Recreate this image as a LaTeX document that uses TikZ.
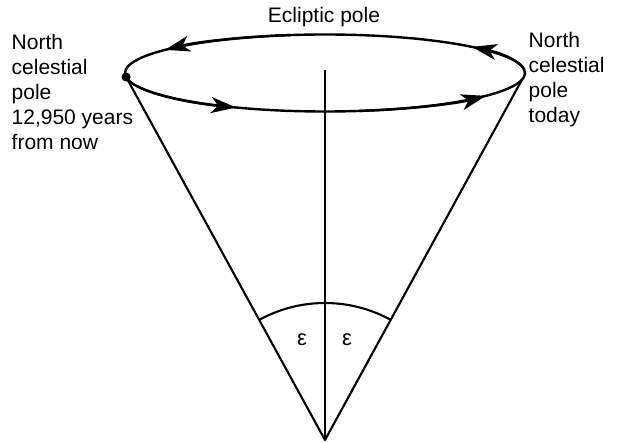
\documentclass[tikz,border=0pt]{standalone}
\usepackage{fontspec}
\setmainfont{Liberation Sans}
\usetikzlibrary{arrows.meta,calc}
\begin{document}
\begin{tikzpicture}[x=1pt,y=1pt,
  line/.style={line width=2.1pt,line join=round},
  orbit/.style={line width=2.4pt},
  orbitarr/.style={orbit,-{Stealth[length=25pt,width=16pt,inset=7pt]}},
  lbl/.style={font=\fontsize{21}{25}\selectfont,inner sep=0pt,align=left},
  eps/.style={font=\fontsize{22}{26}\selectfont,inner sep=0pt}]
\useasboundingbox (0,0) rectangle (617,442);
\coordinate (ec) at (325,369);
\coordinate (apex) at (325,2);
\coordinate (axtop) at (325,372);
\coordinate (lp) at ($(ec)+(186:200 and 38.5)$);
\coordinate (rp) at ($(ec)+(350:200 and 38.5)$);
% orbit
\draw[orbit] (ec) ellipse [x radius=200,y radius=38.5];
% arrowheads along the orbit
\draw[orbitarr] ($(ec)+(200:200 and 38.5)$) arc[start angle=200,end angle=243.6,x radius=200,y radius=38.5];
\draw[orbitarr] ($(ec)+(280:200 and 38.5)$) arc[start angle=280,end angle=323.6,x radius=200,y radius=38.5];
\draw[orbitarr] ($(ec)+(365:200 and 38.5)$) arc[start angle=365,end angle=402.7,x radius=200,y radius=38.5];
\draw[orbitarr] ($(ec)+(460:200 and 38.5)$) arc[start angle=460,end angle=503.1,x radius=200,y radius=38.5];
% cone
\draw[line] (lp) -- (apex) -- (rp);
\draw[line] (axtop) -- (apex);
\fill (lp) circle (4.5);
% angle arcs
\draw[line] (apex) ++(118.6:137) arc[start angle=118.6,end angle=90,radius=137];
\draw[line] (apex) ++(61.4:137) arc[start angle=61.4,end angle=90,radius=137];
\node[eps] (e1) at (302,102) {ε};
\node[eps] (e2) at (347,102) {ε};
% labels
\node[lbl,anchor=base] (ecl) at (324,419.3) {Ecliptic pole};
\node[lbl,anchor=north west] (left) at (11.5,407.5) {North\\celestial\\pole\\12,950 years\\from now};
\node[lbl,anchor=north west] (right) at (528.5,409.5) {North\\celestial\\pole\\today};
\end{tikzpicture}
\end{document}
